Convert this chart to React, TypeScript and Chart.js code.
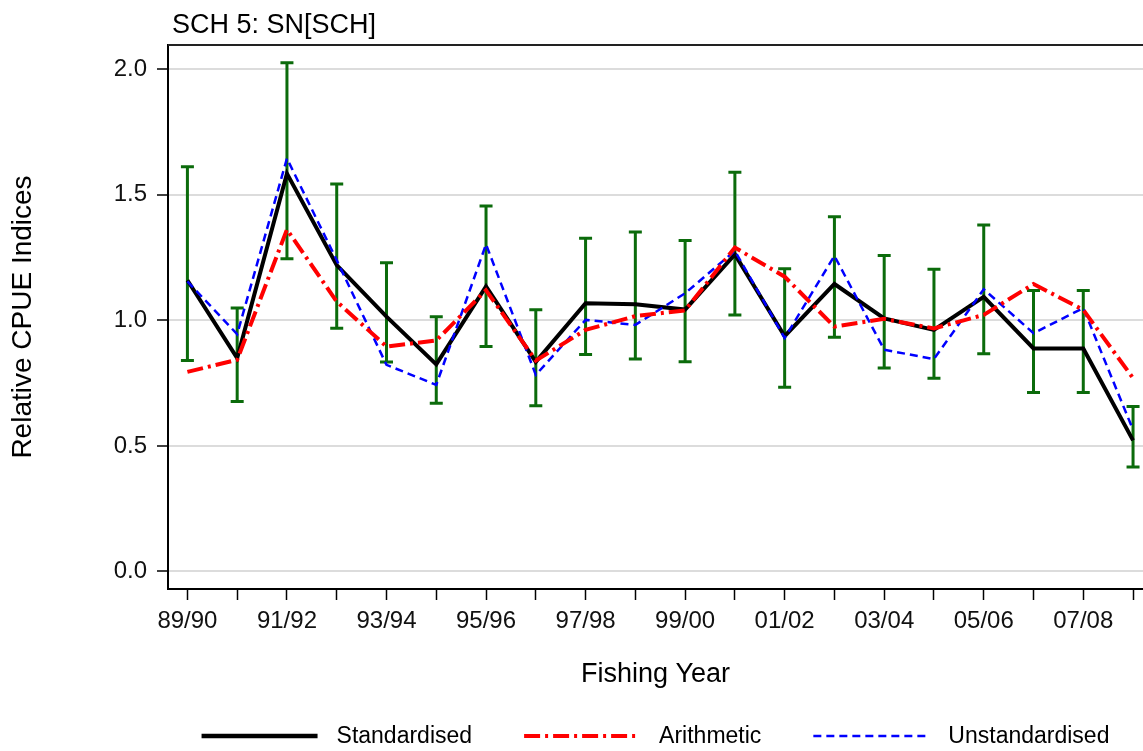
import { useEffect, useRef } from 'react';
import { Chart, registerables } from 'chart.js';

Chart.register(...registerables);

const FONT = '"Liberation Sans", Arial, Helvetica, sans-serif';

const chartTitle = 'SCH 5: SN[SCH]';

const fishingYears = [
  '89/90', '90/91', '91/92', '92/93', '93/94', '94/95', '95/96', '96/97', '97/98', '98/99',
  '99/00', '00/01', '01/02', '02/03', '03/04', '04/05', '05/06', '06/07', '07/08', '08/09',
];

const standardised = [
  1.16, 0.85, 1.585, 1.22, 1.015, 0.825, 1.135, 0.835, 1.068, 1.064,
  1.043, 1.263, 0.937, 1.145, 1.008, 0.962, 1.094, 0.888, 0.888, 0.522,
];

const arithmetic = [
  0.795, 0.843, 1.362, 1.075, 0.896, 0.92, 1.12, 0.84, 0.962, 1.017,
  1.04, 1.29, 1.174, 0.975, 1.006, 0.968, 1.022, 1.145, 1.042, 0.77,
];

const unstandardised = [
  1.155, 0.945, 1.645, 1.24, 0.823, 0.743, 1.303, 0.783, 1.002, 0.982,
  1.108, 1.277, 0.93, 1.257, 0.883, 0.846, 1.124, 0.949, 1.049, 0.564,
];

const ciLower = [
  0.84, 0.677, 1.246, 0.969, 0.834, 0.67, 0.896, 0.66, 0.864, 0.846,
  0.835, 1.021, 0.734, 0.933, 0.81, 0.77, 0.867, 0.713, 0.713, 0.416,
];

const ciUpper = [
  1.612, 1.049, 2.026, 1.543, 1.23, 1.014, 1.456, 1.042, 1.327, 1.352,
  1.318, 1.59, 1.206, 1.413, 1.258, 1.204, 1.38, 1.119, 1.119, 0.657,
];

const yTickValues = [0, 0.5, 1, 1.5, 2];

const toPoints = (values: number[]) => values.map((v, i) => ({ x: i, y: v }));

// Confidence interval whiskers for the standardised index, drawn under the lines.
const errorBarPlugin = {
  id: 'errorBars',
  beforeDatasetsDraw(chart: any) {
    const { ctx, scales } = chart;
    const xs = scales.x;
    const ys = scales.y;
    ctx.save();
    ctx.strokeStyle = '#0b6b0b';
    ctx.lineWidth = 3;
    ctx.lineCap = 'butt';
    ciLower.forEach((lo, i) => {
      const px = xs.getPixelForValue(i);
      const top = ys.getPixelForValue(ciUpper[i]);
      const bot = ys.getPixelForValue(lo);
      ctx.beginPath();
      ctx.moveTo(px, top);
      ctx.lineTo(px, bot);
      ctx.moveTo(px - 6.5, top);
      ctx.lineTo(px + 6.5, top);
      ctx.moveTo(px - 6.5, bot);
      ctx.lineTo(px + 6.5, bot);
      ctx.stroke();
    });
    ctx.restore();
  },
};

// Top frame line, panel title and the line-sample legend under the axis title.
const decorPlugin = {
  id: 'decor',
  afterDraw(chart: any) {
    const { ctx, chartArea: ca } = chart;
    ctx.save();
    ctx.strokeStyle = '#222';
    ctx.lineWidth = 2;
    ctx.beginPath();
    ctx.moveTo(ca.left, ca.top);
    ctx.lineTo(ca.right, ca.top);
    ctx.stroke();

    ctx.fillStyle = '#000';
    ctx.font = `27px ${FONT}`;
    ctx.textAlign = 'left';
    ctx.textBaseline = 'alphabetic';
    ctx.fillText(chartTitle, ca.left + 4, 33);

    ctx.font = `23px ${FONT}`;
    ctx.textBaseline = 'middle';
    const lineLen = 116;
    const textGap = 19;
    const itemGap = 52;
    const sets = [...chart.data.datasets];
    const widths = sets.map((d: any) => lineLen + textGap + ctx.measureText(d.label).width);
    const total = widths.reduce((a: number, b: number) => a + b, 0) + itemGap * (sets.length - 1);
    let x = (ca.left + ca.right) / 2 - total / 2;
    const y = chart.height - 15;
    sets.forEach((d: any, i: number) => {
      ctx.save();
      ctx.strokeStyle = d.borderColor;
      ctx.lineWidth = d.legendWidth;
      ctx.setLineDash(d.borderDash || []);
      ctx.beginPath();
      ctx.moveTo(x, y);
      ctx.lineTo(x + lineLen, y);
      ctx.stroke();
      ctx.restore();
      ctx.fillText(d.label, x + lineLen + textGap, y + 1);
      x += widths[i] + itemGap;
    });
    ctx.restore();
  },
};

export default function App() {
  const canvasRef = useRef<HTMLCanvasElement | null>(null);

  useEffect(() => {
    const canvas = canvasRef.current;
    if (!canvas) return;
    Chart.defaults.font.family = FONT;

    const chart = new Chart(canvas, {
      type: 'line',
      data: {
        datasets: [
          {
            label: 'Standardised',
            data: toPoints(standardised),
            borderColor: '#000000',
            borderWidth: 4,
            legendWidth: 4.5,
            order: 3,
          } as any,
          {
            label: 'Arithmetic',
            data: toPoints(arithmetic),
            borderColor: '#ff0000',
            borderWidth: 4,
            borderDash: [16, 5, 3, 5],
            legendWidth: 4,
            order: 1,
          } as any,
          {
            label: 'Unstandardised',
            data: toPoints(unstandardised),
            borderColor: '#0000ff',
            borderWidth: 2.5,
            borderDash: [8, 5],
            legendWidth: 2.5,
            order: 2,
          } as any,
        ],
      },
      options: {
        animation: false,
        responsive: false,
        layout: { padding: { top: 45, bottom: 60, left: 0, right: 0 } },
        elements: {
          point: { radius: 0, hoverRadius: 0 },
          line: { tension: 0, borderCapStyle: 'butt' },
        },
        plugins: {
          legend: { display: false },
          title: { display: false },
          tooltip: { enabled: false },
        },
        scales: {
          x: {
            type: 'linear',
            min: -0.39,
            max: 19.2,
            afterBuildTicks: (s: any) => {
              s.ticks = fishingYears.map((_, i) => ({ value: i }));
            },
            afterFit: (s: any) => {
              s.height = 102;
            },
            grid: {
              drawOnChartArea: false,
              drawTicks: true,
              tickLength: 11,
              tickColor: '#000',
              tickWidth: 1.5,
            },
            border: { color: '#000', width: 2 },
            ticks: {
              autoSkip: false,
              maxRotation: 0,
              minRotation: 0,
              padding: 7,
              color: '#111',
              font: { size: 24 },
              callback: (v: any) => {
                const i = Number(v);
                return Number.isInteger(i) && i % 2 === 0 ? fishingYears[i] : '';
              },
            },
            title: {
              display: true,
              text: 'Fishing Year',
              color: '#000',
              font: { size: 27 },
              padding: { top: 23, bottom: 0 },
            },
          },
          y: {
            type: 'linear',
            min: -0.07,
            max: 2.097,
            afterBuildTicks: (s: any) => {
              s.ticks = yTickValues.map((v) => ({ value: v }));
            },
            afterFit: (s: any) => {
              s.width = 168;
            },
            grid: {
              color: '#dcdcdc',
              lineWidth: 2,
              tickColor: '#000',
              tickLength: 11,
              tickWidth: 1.5,
            },
            border: { color: '#000', width: 2 },
            ticks: {
              padding: 10,
              color: '#111',
              font: { size: 24 },
              callback: (v: any) => Number(v).toFixed(1),
            },
            title: {
              display: true,
              text: 'Relative CPUE Indices',
              color: '#000',
              font: { size: 28 },
              padding: { top: 6, bottom: 0 },
            },
          },
        },
      } as any,
      plugins: [errorBarPlugin, decorPlugin],
    });

    return () => chart.destroy();
  }, []);

  return (
    <div style={{ position: 'fixed', left: 0, top: 0, width: 1143, height: 751, background: '#fff' }}>
      <canvas ref={canvasRef} width={1143} height={751} style={{ display: 'block' }} />
    </div>
  );
}
